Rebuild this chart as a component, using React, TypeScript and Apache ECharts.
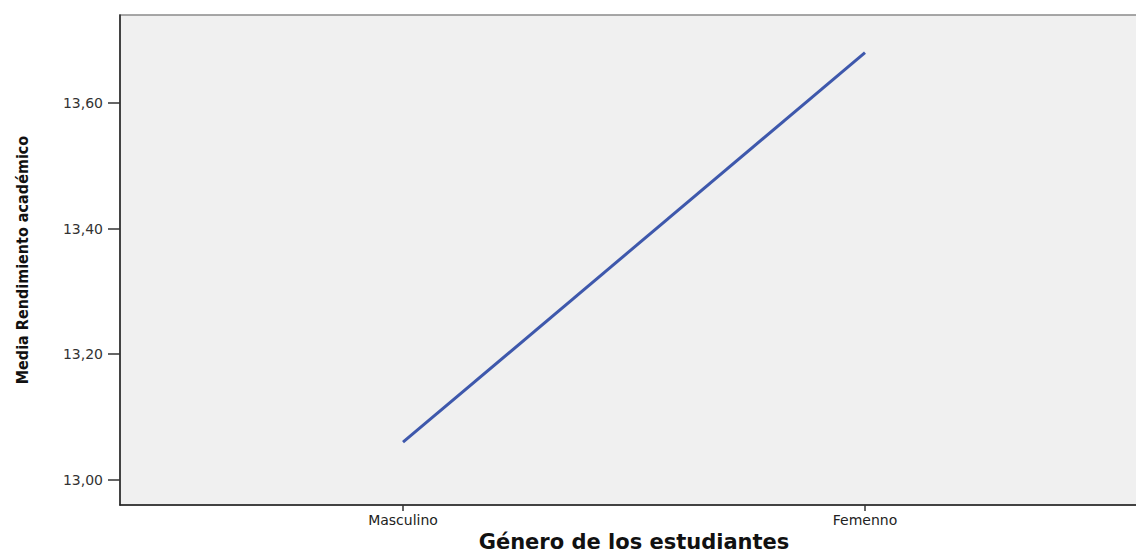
import React, { useEffect, useRef } from "react";
import * as echarts from "echarts";

const categories = ["Masculino", "Femenno"];
const meanValues = [13.06, 13.68];
const yTicks = [13.0, 13.2, 13.4, 13.6];
const xTitle = "Género de los estudiantes";
const yTitle = "Media Rendimiento académico";

export default function App() {
  const ref = useRef<HTMLDivElement>(null);
  useEffect(() => {
    if (!ref.current) return;
    const chart = echarts.init(ref.current, undefined, { renderer: "svg" });
    const catIdx = categories.map((_, i) => i);
    chart.setOption({
      animation: false,
      backgroundColor: "#ffffff",
      grid: {
        left: 120,
        top: 15,
        bottom: 51,
        right: -12,
        outerBoundsMode: "none",
        containLabel: false,
        show: true,
        backgroundColor: "#F0F0F0",
        borderColor: "#8a8a8a",
        borderWidth: 1.5,
      },
      xAxis: {
        type: "value",
        min: -0.6126,
        max: 1.6126,
        name: xTitle,
        nameLocation: "middle",
        nameGap: 26,
        nameTextStyle: {
          fontFamily: "DejaVu Sans",
          fontWeight: "bold",
          fontSize: 21,
          color: "#111",
        },
        axisLine: { show: true, onZero: false, lineStyle: { color: "#222", width: 1.5 } },
        axisTick: {
          show: true,
          customValues: catIdx,
          length: 6,
          lineStyle: { color: "#333", width: 1.5 },
        },
        axisLabel: {
          customValues: catIdx,
          formatter: (v: number) => categories[Math.round(v)] ?? "",
          margin: 8,
          fontFamily: "DejaVu Sans",
          fontSize: 14,
          color: "#222",
        },
        splitLine: { show: false },
      },
      yAxis: {
        type: "value",
        min: 12.96,
        max: 13.74,
        name: yTitle,
        nameLocation: "middle",
        nameGap: 90,
        nameTextStyle: {
          fontFamily: "'Liberation Sans Narrow', 'DejaVu Sans Condensed', sans-serif",
          fontWeight: "bold",
          fontSize: 16,
          color: "#111",
        },
        axisLine: { show: true, onZero: false, lineStyle: { color: "#222", width: 1.5 } },
        axisTick: {
          show: true,
          customValues: yTicks,
          length: 12,
          lineStyle: { color: "#333", width: 1.5 },
        },
        axisLabel: {
          customValues: yTicks,
          formatter: (v: number) => v.toFixed(2).replace(".", ","),
          margin: 17,
          fontFamily: "DejaVu Sans",
          fontSize: 14,
          color: "#333",
        },
        splitLine: { show: false },
      },
      series: [
        {
          type: "line",
          data: meanValues.map((v, i) => [i, v]),
          symbol: "none",
          lineStyle: { color: "#3E58AC", width: 3 },
        },
      ],
    });
    return () => chart.dispose();
  }, []);
  return (
    <div
      ref={ref}
      style={{ position: "fixed", left: 0, top: 0, width: 1136, height: 556, overflow: "hidden" }}
    />
  );
}
